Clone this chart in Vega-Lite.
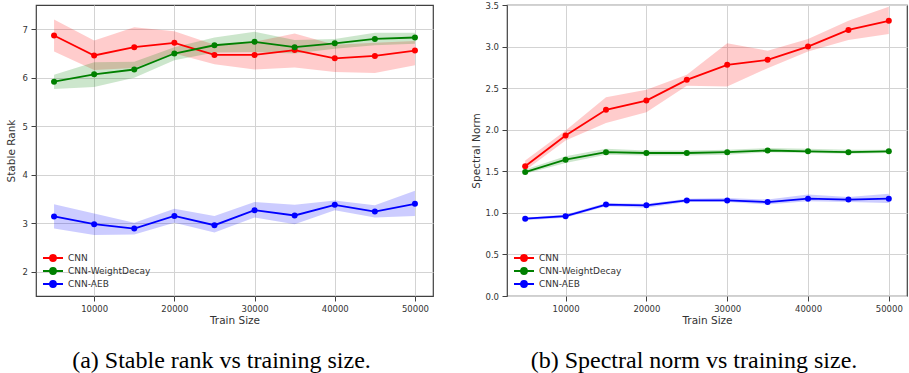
{
  "$schema": "https://vega.github.io/schema/vega-lite/v6.json",
  "background": "white",
  "padding": {"left": 5, "top": 0, "right": 0, "bottom": 0},
  "bounds": "flush",
  "spacing": 74,
  "config": {
    "view": {"stroke": "#404040", "strokeWidth": 1.2},
    "axis": {
      "labelFont": "DejaVu Sans", "labelFontSize": 8.5, "labelColor": "#333333",
      "titleFont": "DejaVu Sans", "titleFontSize": 10.5, "titleFontWeight": "normal", "titleColor": "#333333",
      "tickColor": "#404040", "tickSize": 5, "tickWidth": 1,
      "gridColor": "#d3d3d3", "gridWidth": 1, "domain": false
    },
    "axisX": {"labelPadding": 3, "titlePadding": 3},
    "axisY": {"labelPadding": 3.5, "titlePadding": 6},
    "title": {"font": "Liberation Serif", "fontSize": 24, "fontWeight": "normal", "color": "#000000", "orient": "bottom", "offset": 23, "dx": -13}
  },
  "resolve": {"scale": {"color": "independent", "y": "independent"}, "legend": {"color": "independent"}},
  "datasets": {
    "rank": [
      {"size": 5000, "model": "CNN", "mean": 6.87, "lo": 6.54, "hi": 7.20},
      {"size": 10000, "model": "CNN", "mean": 6.46, "lo": 6.16, "hi": 6.77},
      {"size": 15000, "model": "CNN", "mean": 6.63, "lo": 6.20, "hi": 7.04},
      {"size": 20000, "model": "CNN", "mean": 6.72, "lo": 6.50, "hi": 6.96},
      {"size": 25000, "model": "CNN", "mean": 6.47, "lo": 6.28, "hi": 6.68},
      {"size": 30000, "model": "CNN", "mean": 6.47, "lo": 6.17, "hi": 6.74},
      {"size": 35000, "model": "CNN", "mean": 6.57, "lo": 6.21, "hi": 6.91},
      {"size": 40000, "model": "CNN", "mean": 6.40, "lo": 6.12, "hi": 6.68},
      {"size": 45000, "model": "CNN", "mean": 6.45, "lo": 6.10, "hi": 6.72},
      {"size": 50000, "model": "CNN", "mean": 6.56, "lo": 6.26, "hi": 6.76},
      {"size": 5000, "model": "CNN-WeightDecay", "mean": 5.92, "lo": 5.77, "hi": 6.06},
      {"size": 10000, "model": "CNN-WeightDecay", "mean": 6.07, "lo": 5.81, "hi": 6.32},
      {"size": 15000, "model": "CNN-WeightDecay", "mean": 6.17, "lo": 6.00, "hi": 6.33},
      {"size": 20000, "model": "CNN-WeightDecay", "mean": 6.50, "lo": 6.36, "hi": 6.63},
      {"size": 25000, "model": "CNN-WeightDecay", "mean": 6.67, "lo": 6.52, "hi": 6.83},
      {"size": 30000, "model": "CNN-WeightDecay", "mean": 6.74, "lo": 6.53, "hi": 6.95},
      {"size": 35000, "model": "CNN-WeightDecay", "mean": 6.63, "lo": 6.50, "hi": 6.78},
      {"size": 40000, "model": "CNN-WeightDecay", "mean": 6.71, "lo": 6.60, "hi": 6.80},
      {"size": 45000, "model": "CNN-WeightDecay", "mean": 6.80, "lo": 6.67, "hi": 6.93},
      {"size": 50000, "model": "CNN-WeightDecay", "mean": 6.83, "lo": 6.70, "hi": 6.93},
      {"size": 5000, "model": "CNN-AEB", "mean": 3.14, "lo": 2.89, "hi": 3.39},
      {"size": 10000, "model": "CNN-AEB", "mean": 2.98, "lo": 2.76, "hi": 3.20},
      {"size": 15000, "model": "CNN-AEB", "mean": 2.89, "lo": 2.77, "hi": 3.01},
      {"size": 20000, "model": "CNN-AEB", "mean": 3.15, "lo": 3.01, "hi": 3.30},
      {"size": 25000, "model": "CNN-AEB", "mean": 2.96, "lo": 2.81, "hi": 3.15},
      {"size": 30000, "model": "CNN-AEB", "mean": 3.27, "lo": 3.12, "hi": 3.44},
      {"size": 35000, "model": "CNN-AEB", "mean": 3.16, "lo": 2.98, "hi": 3.38},
      {"size": 40000, "model": "CNN-AEB", "mean": 3.38, "lo": 3.27, "hi": 3.47},
      {"size": 45000, "model": "CNN-AEB", "mean": 3.24, "lo": 3.12, "hi": 3.37},
      {"size": 50000, "model": "CNN-AEB", "mean": 3.40, "lo": 3.15, "hi": 3.67}
    ],
    "norm": [
      {"size": 5000, "model": "CNN", "mean": 1.56, "lo": 1.51, "hi": 1.63},
      {"size": 10000, "model": "CNN", "mean": 1.93, "lo": 1.87, "hi": 1.99},
      {"size": 15000, "model": "CNN", "mean": 2.24, "lo": 2.08, "hi": 2.39},
      {"size": 20000, "model": "CNN", "mean": 2.35, "lo": 2.21, "hi": 2.48},
      {"size": 25000, "model": "CNN", "mean": 2.60, "lo": 2.53, "hi": 2.66},
      {"size": 30000, "model": "CNN", "mean": 2.78, "lo": 2.52, "hi": 3.04},
      {"size": 35000, "model": "CNN", "mean": 2.84, "lo": 2.74, "hi": 2.95},
      {"size": 40000, "model": "CNN", "mean": 3.00, "lo": 2.94, "hi": 3.09},
      {"size": 45000, "model": "CNN", "mean": 3.20, "lo": 3.08, "hi": 3.31},
      {"size": 50000, "model": "CNN", "mean": 3.31, "lo": 3.15, "hi": 3.48},
      {"size": 5000, "model": "CNN-WeightDecay", "mean": 1.49, "lo": 1.47, "hi": 1.52},
      {"size": 10000, "model": "CNN-WeightDecay", "mean": 1.64, "lo": 1.60, "hi": 1.68},
      {"size": 15000, "model": "CNN-WeightDecay", "mean": 1.73, "lo": 1.70, "hi": 1.77},
      {"size": 20000, "model": "CNN-WeightDecay", "mean": 1.72, "lo": 1.69, "hi": 1.75},
      {"size": 25000, "model": "CNN-WeightDecay", "mean": 1.72, "lo": 1.69, "hi": 1.75},
      {"size": 30000, "model": "CNN-WeightDecay", "mean": 1.73, "lo": 1.70, "hi": 1.76},
      {"size": 35000, "model": "CNN-WeightDecay", "mean": 1.75, "lo": 1.73, "hi": 1.78},
      {"size": 40000, "model": "CNN-WeightDecay", "mean": 1.74, "lo": 1.72, "hi": 1.77},
      {"size": 45000, "model": "CNN-WeightDecay", "mean": 1.73, "lo": 1.71, "hi": 1.76},
      {"size": 50000, "model": "CNN-WeightDecay", "mean": 1.74, "lo": 1.72, "hi": 1.76},
      {"size": 5000, "model": "CNN-AEB", "mean": 0.93, "lo": 0.91, "hi": 0.94},
      {"size": 10000, "model": "CNN-AEB", "mean": 0.96, "lo": 0.94, "hi": 0.98},
      {"size": 15000, "model": "CNN-AEB", "mean": 1.10, "lo": 1.08, "hi": 1.12},
      {"size": 20000, "model": "CNN-AEB", "mean": 1.09, "lo": 1.06, "hi": 1.11},
      {"size": 25000, "model": "CNN-AEB", "mean": 1.15, "lo": 1.13, "hi": 1.17},
      {"size": 30000, "model": "CNN-AEB", "mean": 1.15, "lo": 1.13, "hi": 1.18},
      {"size": 35000, "model": "CNN-AEB", "mean": 1.13, "lo": 1.10, "hi": 1.16},
      {"size": 40000, "model": "CNN-AEB", "mean": 1.17, "lo": 1.14, "hi": 1.22},
      {"size": 45000, "model": "CNN-AEB", "mean": 1.16, "lo": 1.13, "hi": 1.19},
      {"size": 50000, "model": "CNN-AEB", "mean": 1.17, "lo": 1.12, "hi": 1.23}
    ]
  },
  "hconcat": [
    {
      "width": 397, "height": 291,
      "data": {"name": "rank"},
      "title": {"text": "(a) Stable rank vs training size."},
      "encoding": {
        "x": {"field": "size", "type": "quantitative", "scale": {"domain": [2750, 52250], "nice": false, "zero": false},
              "axis": {"values": [10000, 20000, 30000, 40000, 50000], "format": "d", "title": "Train Size"}},
        "color": {"field": "model", "type": "nominal",
                  "scale": {"domain": ["CNN", "CNN-WeightDecay", "CNN-AEB"], "range": ["#ff0000", "#008000", "#0000ff"]},
                  "legend": {"title": null, "orient": "none", "legendX": 11, "legendY": 247, "padding": 0,
                             "labelFont": "DejaVu Sans", "labelFontSize": 9, "labelColor": "#333333", "labelOffset": 9,
                             "symbolType": "M-2,0L2,0M-0.6,0A0.6,0.6 0 1,1 0.6,0A0.6,0.6 0 1,1 -0.6,0Z", "symbolSize": 100, "rowPadding": -2.5,
                             "encode": {"symbols": {"update": {
                               "fill": {"signal": "datum.value === 'CNN' ? '#ff0000' : datum.value === 'CNN-WeightDecay' ? '#008000' : '#0000ff'"},
                               "stroke": {"signal": "datum.value === 'CNN' ? '#ff0000' : datum.value === 'CNN-WeightDecay' ? '#008000' : '#0000ff'"},
                               "opacity": {"value": 1}, "fillOpacity": {"value": 1}, "strokeOpacity": {"value": 1}, "strokeWidth": {"value": 1.8}}}}}}
      },
      "layer": [
        {"mark": {"type": "area", "opacity": 0.2}, "encoding": {"y": {"field": "lo", "type": "quantitative", "scale": {"domain": [1.5, 7.5], "nice": false, "zero": false}, "axis": {"values": [2, 3, 4, 5, 6, 7], "title": "Stable Rank"}}, "y2": {"field": "hi"}}},
        {"mark": {"type": "line", "strokeWidth": 1.8}, "encoding": {"y": {"field": "mean", "type": "quantitative"}}},
        {"mark": {"type": "circle", "size": 36, "opacity": 1}, "encoding": {"y": {"field": "mean", "type": "quantitative"}}}
      ]
    },
    {
      "width": 400, "height": 291,
      "data": {"name": "norm"},
      "title": {"text": "(b) Spectral norm vs training size."},
      "encoding": {
        "x": {"field": "size", "type": "quantitative", "scale": {"domain": [2750, 52250], "nice": false, "zero": false},
              "axis": {"values": [10000, 20000, 30000, 40000, 50000], "format": "d", "title": "Train Size"}},
        "color": {"field": "model", "type": "nominal",
                  "scale": {"domain": ["CNN", "CNN-WeightDecay", "CNN-AEB"], "range": ["#ff0000", "#008000", "#0000ff"]},
                  "legend": {"title": null, "orient": "none", "legendX": 11, "legendY": 247, "padding": 0,
                             "labelFont": "DejaVu Sans", "labelFontSize": 9, "labelColor": "#333333", "labelOffset": 9,
                             "symbolType": "M-2,0L2,0M-0.6,0A0.6,0.6 0 1,1 0.6,0A0.6,0.6 0 1,1 -0.6,0Z", "symbolSize": 100, "rowPadding": -2.5,
                             "encode": {"symbols": {"update": {
                               "fill": {"signal": "datum.value === 'CNN' ? '#ff0000' : datum.value === 'CNN-WeightDecay' ? '#008000' : '#0000ff'"},
                               "stroke": {"signal": "datum.value === 'CNN' ? '#ff0000' : datum.value === 'CNN-WeightDecay' ? '#008000' : '#0000ff'"},
                               "opacity": {"value": 1}, "fillOpacity": {"value": 1}, "strokeOpacity": {"value": 1}, "strokeWidth": {"value": 1.8}}}}}}
      },
      "layer": [
        {"mark": {"type": "area", "opacity": 0.2}, "encoding": {"y": {"field": "lo", "type": "quantitative", "scale": {"domain": [0, 3.5], "nice": false, "zero": false}, "axis": {"values": [0, 0.5, 1, 1.5, 2, 2.5, 3, 3.5], "format": ".1f", "title": "Spectral Norm", "titlePadding": 3.5}}, "y2": {"field": "hi"}}},
        {"mark": {"type": "line", "strokeWidth": 1.8}, "encoding": {"y": {"field": "mean", "type": "quantitative"}}},
        {"mark": {"type": "circle", "size": 36, "opacity": 1}, "encoding": {"y": {"field": "mean", "type": "quantitative"}}}
      ]
    }
  ]
}
